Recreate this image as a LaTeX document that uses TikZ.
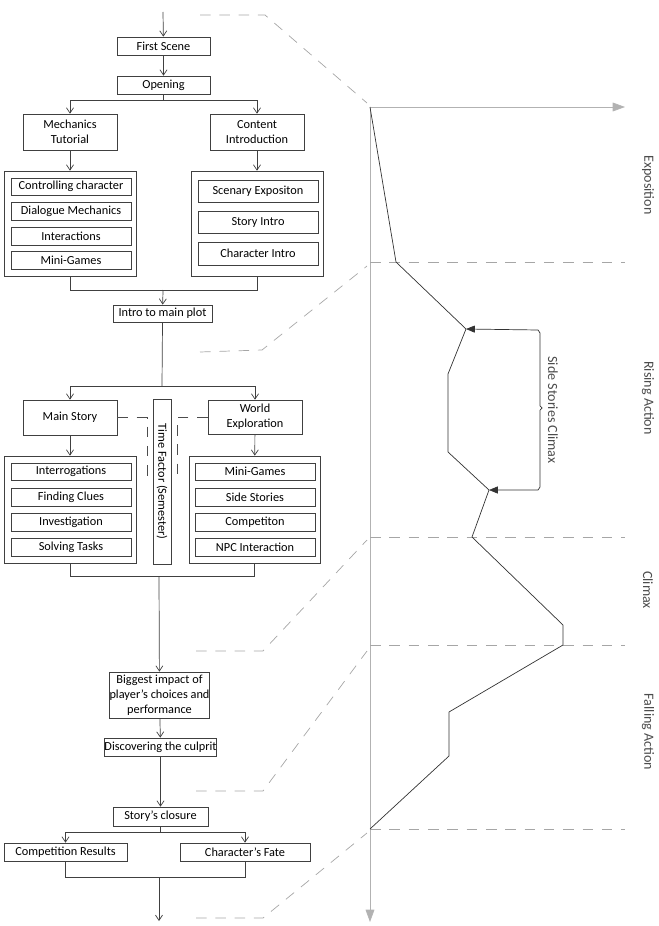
\documentclass[tikz,border=0pt]{standalone}
\usepackage{fontspec}
\setmainfont{Carlito}
\usetikzlibrary{arrows.meta,calc}
\tikzset{
  box/.style={draw=black!75,rectangle,inner sep=0pt,align=center,font=\fontsize{7}{8.4}\selectfont},
  flow/.style={draw=black!75,-{Straight Barb[length=3pt,width=4pt]}},
  link/.style={draw=black!75},
  dsh/.style={draw=black!35,dash pattern=on 6pt off 5pt},
  axis/.style={draw=black!30,-{Triangle[length=7pt,width=5pt]}},
  lbl/.style={rotate=-90,font=\fontsize{8}{9}\selectfont,text=black!70}
}
\newcommand{\bx}[6]{\node[box,minimum width=#4*0.02cm,minimum height=#5*0.02cm] (#1) at (#2,#3) {#6};}
\begin{document}
\begin{tikzpicture}[x=0.02cm,y=-0.02cm]
      \useasboundingbox (0,0) rectangle (659,926);
      % flowchart, top part
      \coordinate (top) at (163,12);
      \bx{first}{163.5}{46}{93}{18}{First Scene}
      \bx{open}{163.5}{85}{93}{18}{Opening}
      \bx{mech}{70}{132}{94}{36}{Mechanics\\Tutorial}
      \bx{cont}{257}{132}{94}{36}{Content\\Introduction}
      \bx{mechc}{70}{223.5}{132}{105}{}
      \bx{contc}{257}{223.5}{132}{105}{}
      \bx{m1}{71}{186.5}{120}{17}{Controlling character}
      \bx{m2}{71}{211}{120}{18}{Dialogue Mechanics}
      \bx{m3}{71}{236}{120}{18}{Interactions}
      \bx{m4}{71}{260}{120}{18}{Mini-Games}
      \bx{c1}{258}{191}{120}{22}{Scenary Expositon}
      \bx{c2}{258}{222}{120}{22}{Story Intro}
      \bx{c3}{258}{253.5}{120}{23}{Character Intro}
      \bx{plot}{162.5}{313.5}{99}{17}{Intro to main plot}
      \draw[flow] (top) -- (first);
      \draw[flow] (first) -- (open);
      \draw[link] (open.south) -- ++(0,6) coordinate (s1);
      \draw[flow] (s1) -| (mech);
      \draw[flow] (s1) -| (cont);
      \draw[flow] (mech) -- (mechc);
      \draw[flow] (cont) -- (contc);
      \draw[link] (mechc.south) |- (257,290) -- (contc.south);
      \draw[flow] (163,290) -- (plot);
      % flowchart, middle part
      \bx{main}{70}{417.5}{94}{35}{Main Story}
      \bx{world}{255}{417}{94}{34}{World\\Exploration}
      \bx{time}{162}{481.5}{18}{165}{}
      \node[box,draw=none,rotate=-90] (timet) at (time) {Time Factor (Semester)};
      \bx{mainc}{70}{509.5}{132}{107}{}
      \bx{worldc}{254.5}{509.5}{131}{107}{}
      \bx{a1}{71}{471.5}{120}{17}{Interrogations}
      \bx{a2}{71}{497}{120}{18}{Finding Clues}
      \bx{a3}{71}{522}{120}{18}{Investigation}
      \bx{a4}{71}{547}{120}{18}{Solving Tasks}
      \bx{b1}{255}{471.5}{120}{17}{Mini-Games}
      \bx{b2}{255}{497}{120}{18}{Side Stories}
      \bx{b3}{255}{522}{120}{18}{Competiton}
      \bx{b4}{255}{547}{120}{18}{NPC Interaction}
      \draw[link] (plot.south) -- (162,386) coordinate (s2);
      \draw[flow] (s2) -| (main);
      \draw[flow] (s2) -| (world);
      \draw[flow] (main) -- (mainc);
      \draw[flow] (world) -- (worldc);
      \draw[dsh,draw=black!70] (main.east) -| (147,481);
      \draw[dsh,draw=black!70] (world.west) -| (177,481);
      % flowchart, bottom part
      \bx{impact}{159.5}{695}{97}{46}{Biggest impact of\\player's choices and\\performance}
      \bx{culprit}{160.5}{747}{95}{18}{Discovering the culprit}
      \bx{closure}{160.5}{816.5}{95}{19}{Story's closure}
      \bx{comp}{65.5}{852}{123}{18}{Competition Results}
      \bx{fate}{245}{852}{130}{18}{Character's Fate}
      \coordinate (end) at (159,921);
      \draw[link] (mainc.south) |- (254.5,576) -- (worldc.south);
      \draw[flow] (159,576) -- (impact);
      \draw[flow] (impact) -- (culprit);
      \draw[flow] (culprit) -- (closure);
      \draw[link] (closure.south) -- ++(0,6) coordinate (s3);
      \draw[flow] (s3) -| (comp);
      \draw[flow] (s3) -| (fate);
      \draw[link] (comp.south) |- (245,877) -- (fate.south);
      \draw[flow] (159,877) -- (end);
      % plot axes and stage lines
      \coordinate (o) at (370,107);
      \draw[axis] (o) -- (625,107);
      \draw[axis] (o) -- (370,922);
      \foreach \yy in {262,537,645,829}
        \draw[dsh] (370,\yy) -- (625,\yy);
      \draw[dsh] (200,15) -- (265,15) -- (367,103);
      \draw[dsh] (200,352) -- (262,350) -- (367,266);
      \draw[dsh] (196,651) -- (263,651) -- (367,540);
      \draw[dsh] (196,791) -- (263,791) -- (367,651);
      \draw[dsh] (196,918) -- (263,918) -- (367,833);
      % story curve
      \draw[black!80] (o) -- (396,262) -- (466,329) -- (448,374) -- (448,452)
        -- (489,490) -- (472,537) -- (563,625) -- (563,645) -- (449,712)
        -- (449,756) -- (370,829);
      \coordinate (p1) at (466,329);
      \coordinate (p2) at (489,490);
      \draw[black!80,-{Triangle[length=5pt,width=4pt]}] (540,410) -- ++(2,-2) -- (540,406) -- (540,333) -- (538,330) -- (p1);
      \draw[black!80,-{Triangle[length=5pt,width=4pt]}] (540,410) -- (540,487) -- (538,490) -- (p2);
      \node[lbl] (sscl) at (553,410) {Side Stories Climax};
      \node[lbl] (expo) at (648,185) {Exposition};
      \node[lbl] (rise) at (648,398) {Rising Action};
      \node[lbl] (clim) at (648,590) {Climax};
      \node[lbl] (fall) at (648,732) {Falling Action};
\end{tikzpicture}
\end{document}
